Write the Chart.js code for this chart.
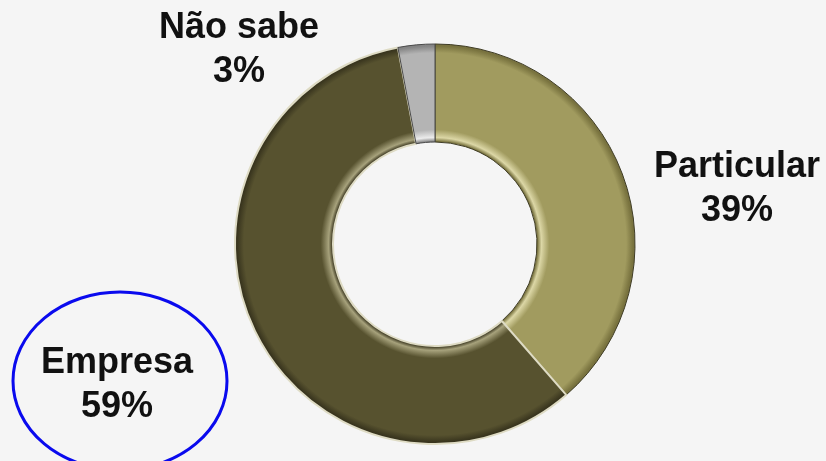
<!DOCTYPE html>
<html lang="pt">
<head>
<meta charset="utf-8">
<title>Particular / Empresa / Não sabe</title>
<script src="https://cdn.jsdelivr.net/npm/chart.js@4/dist/chart.umd.min.js"></script>
<style>
  html, body { margin: 0; padding: 0; background: #f5f5f5; }
  #wrap { width: 826px; height: 461px; position: relative; }
</style>
</head>
<body>
<div id="wrap"><canvas id="donut" width="826" height="461"></canvas></div>
<script>
// Data
const categories = ['Particular', 'Empresa', 'Não sabe'];
const shares = [39, 59, 3];
const shareLabels = ['39%', '59%', '3%'];

// Base colours for each slice: [inner glint, body, outer edge]
const sliceTones = [
  ['#dcd7a6', '#a19b5f', '#79733f'],
  ['#a7a27c', '#57522f', '#39351e'],
  ['#ececec', '#b4b4b4', '#858585']
];

const cutoutRatio = 0.51;

// Where each label sits, relative to the ring centre (px)
const labelOffsets = [
  { dx: 302, dy: -58 },
  { dx: -318, dy: 138 },
  { dx: -196, dy: -197 }
];
const highlighted = 1; // Empresa gets the blue ring

// Radial shading so the ring looks bevelled
function ringShade(ctx) {
  const chart = ctx.chart;
  const area = chart.chartArea;
  const t = sliceTones[ctx.dataIndex];
  if (!area) return t[1];
  const x = (area.left + area.right) / 2;
  const y = (area.top + area.bottom) / 2;
  const outer = Math.min(area.right - area.left, area.bottom - area.top) / 2;
  const inner = outer * cutoutRatio;
  const g = chart.ctx.createRadialGradient(x, y, inner, x, y, outer);
  g.addColorStop(0, t[2]);
  g.addColorStop(0.04, t[0]);
  g.addColorStop(0.12, t[1]);
  g.addColorStop(0.5, t[1]);
  g.addColorStop(0.9, t[1]);
  g.addColorStop(0.97, t[2]);
  g.addColorStop(1, t[2]);
  return g;
}

// Labels outside the ring + the blue ellipse
const outsideLabels = {
  id: 'outsideLabels',
  afterDraw(chart) {
    const arc = chart.getDatasetMeta(0).data[0];
    if (!arc) return;
    const c = chart.ctx;
    c.save();
    c.fillStyle = '#111';
    c.font = 'bold 36px "Liberation Sans", Arial, sans-serif';
    c.textAlign = 'center';
    c.textBaseline = 'alphabetic';
    categories.forEach((name, i) => {
      const lx = arc.x + labelOffsets[i].dx;
      const ly = arc.y + labelOffsets[i].dy;
      c.fillText(name, lx, ly - 9);
      c.fillText(shareLabels[i], lx, ly + 35);
      if (i === highlighted) {
        c.beginPath();
        c.ellipse(lx + 3, ly - 1, 107, 89, 0, 0, Math.PI * 2);
        c.strokeStyle = '#0a0aee';
        c.lineWidth = 3;
        c.stroke();
      }
    });
    c.restore();
  }
};

new Chart(document.getElementById('donut'), {
  type: 'doughnut',
  data: {
    labels: categories,
    datasets: [{
      data: shares,
      backgroundColor: ringShade,
      borderColor: ['#3f3c25', '#dedbc4', '#4a4a4a'],
      borderWidth: [1, 2, 1]
    }]
  },
  options: {
    responsive: false,
    animation: false,
    cutout: (cutoutRatio * 100) + '%',
    rotation: 0,
    layout: { padding: { left: 234, right: 190, top: 43, bottom: 16 } },
    plugins: {
      legend: { display: false },
      tooltip: { enabled: false }
    }
  },
  plugins: [outsideLabels]
});
</script>
</body>
</html>
